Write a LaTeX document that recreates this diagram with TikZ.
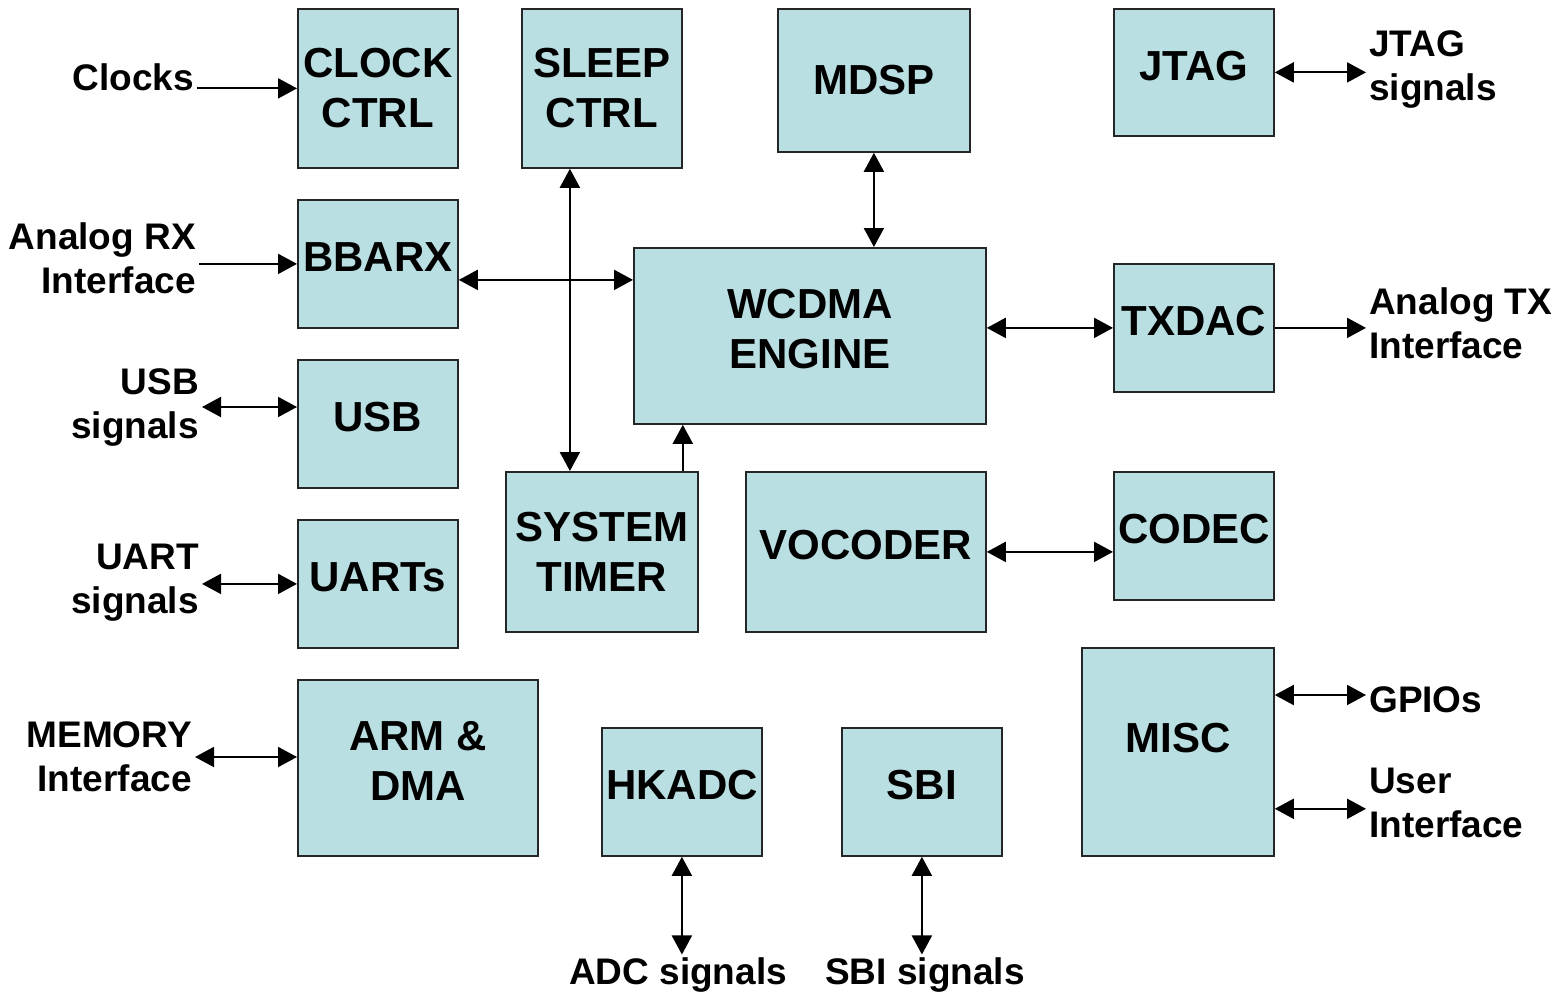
\documentclass[tikz,border=0pt]{standalone}
\usepackage{fontspec}
\setmainfont{Liberation Sans}
\usetikzlibrary{arrows.meta,calc}
\definecolor{blockfill}{RGB}{185,223,226}

\begin{document}
\begin{tikzpicture}[
    x=1pt, y=-1pt,
    block/.style={rectangle, draw=black!85, line width=1.8pt, fill=blockfill, anchor=north west, inner sep=0pt, align=center, font=\fontsize{42}{50}\selectfont\bfseries},
    lift/.style={text depth=14pt},
    sig/.style={inner sep=3pt, font=\fontsize{37}{44}\selectfont\bfseries},
    arrow/.style={-{Triangle[length=19pt,width=20pt]}, line width=2pt},
    biarrow/.style={{Triangle[length=19pt,width=20pt]}-{Triangle[length=19pt,width=20pt]}, line width=2pt}
]
\useasboundingbox (0,0) rectangle (1562,995);

\node[block, minimum width=160pt, minimum height=159pt] (clkctrl) at (297,8) {CLOCK\\CTRL};
\node[block, minimum width=160pt, minimum height=159pt] (sleep) at (521,8) {SLEEP\\CTRL};
\node[block, minimum width=192pt, minimum height=143pt] (mdsp) at (777,8) {MDSP};
\node[block, lift, minimum width=160pt, minimum height=127pt] (jtag) at (1113,8) {JTAG};
\node[block, lift, minimum width=160pt, minimum height=128pt] (bbarx) at (297,199) {BBARX};
\node[block, lift, minimum width=352pt, minimum height=176pt] (wcdma) at (633,247) {WCDMA\\ENGINE};
\node[block, lift, minimum width=160pt, minimum height=128pt] (txdac) at (1113,263) {TXDAC};
\node[block, lift, minimum width=160pt, minimum height=128pt] (usb) at (297,359) {USB};
\node[block, minimum width=192pt, minimum height=160pt] (timer) at (505,471) {SYSTEM\\TIMER};
\node[block, lift, minimum width=240pt, minimum height=160pt] (vocoder) at (745,471) {VOCODER};
\node[block, lift, minimum width=160pt, minimum height=128pt] (codec) at (1113,471) {CODEC};
\node[block, lift, minimum width=160pt, minimum height=128pt] (uarts) at (297,519) {UARTs};
\node[block, minimum width=192pt, minimum height=208pt, text depth=28pt] (misc) at (1081,647) {MISC};
\node[block, lift, minimum width=240pt, minimum height=176pt] (arm) at (297,679) {ARM \&\\DMA};
\node[block, lift, minimum width=160pt, minimum height=128pt] (hkadc) at (601,727) {HKADC};
\node[block, lift, minimum width=160pt, minimum height=128pt] (sbi) at (841,727) {SBI};

\node[sig, anchor=east] (clocks) at (197,77) {Clocks};
\node[sig, anchor=east, align=right] (anarx) at (199,258) {Analog RX\\Interface};
\node[sig, anchor=east, align=right] (usbsig) at (202,407) {USB\\signals};
\node[sig, anchor=east, align=right] (uartsig) at (202,583) {UART\\signals};
\node[sig, anchor=east, align=right] (memif) at (195,757) {MEMORY\\Interface};
\node[sig, anchor=west, align=left] (jtagsig) at (1366,70) {JTAG\\signals};
\node[sig, anchor=west, align=left] (antx) at (1366,323) {Analog TX\\Interface};
\node[sig, anchor=west] (gpios) at (1366,700) {GPIOs};
\node[sig, anchor=west, align=left] (userif) at (1366,803) {User\\Interface};
\node[sig] (adcsig) at (678,975) {ADC signals};
\node[sig] (sbisig) at (925,975) {SBI signals};

\draw[arrow] (clocks.east |- clkctrl.west) -- (clkctrl.west);
\draw[arrow] (anarx.east |- bbarx.west) -- (bbarx.west);
\draw[biarrow] (usbsig.east) -- (usbsig.east -| usb.west);
\draw[biarrow] (uartsig.east |- uarts.west) -- (uarts.west);
\draw[biarrow] (memif.east) -- (memif.east -| arm.west);
\draw[biarrow] ([yshift=-16pt]bbarx.east) -- ([yshift=-16pt]bbarx.east -| wcdma.west);
\draw[biarrow] ([xshift=-32pt]sleep.south) -- ([xshift=-32pt]sleep.south |- timer.north);
\draw[arrow] ([xshift=-16pt]timer.north east) -- ([xshift=-16pt]timer.north east |- wcdma.south);
\draw[biarrow] (mdsp.south) -- (mdsp.south |- wcdma.north);
\draw[biarrow] (wcdma.east |- txdac.west) -- (txdac.west);
\draw[arrow] (txdac.east) -- (txdac.east -| antx.west);
\draw[biarrow] (jtag.east) -- (jtag.east -| jtagsig.west);
\draw[biarrow] (vocoder.east) -- (vocoder.east -| codec.west);
\draw[biarrow] ([yshift=-48pt]misc.north east) -- ([yshift=-48pt]misc.north east -| gpios.west);
\draw[biarrow] ([yshift=48pt]misc.south east) -- ([yshift=48pt]misc.south east -| userif.west);
\draw[biarrow] (hkadc.south) -- (hkadc.south |- adcsig.north);
\draw[biarrow] (sbi.south) -- (sbi.south |- sbisig.north);

\end{tikzpicture}
\end{document}
